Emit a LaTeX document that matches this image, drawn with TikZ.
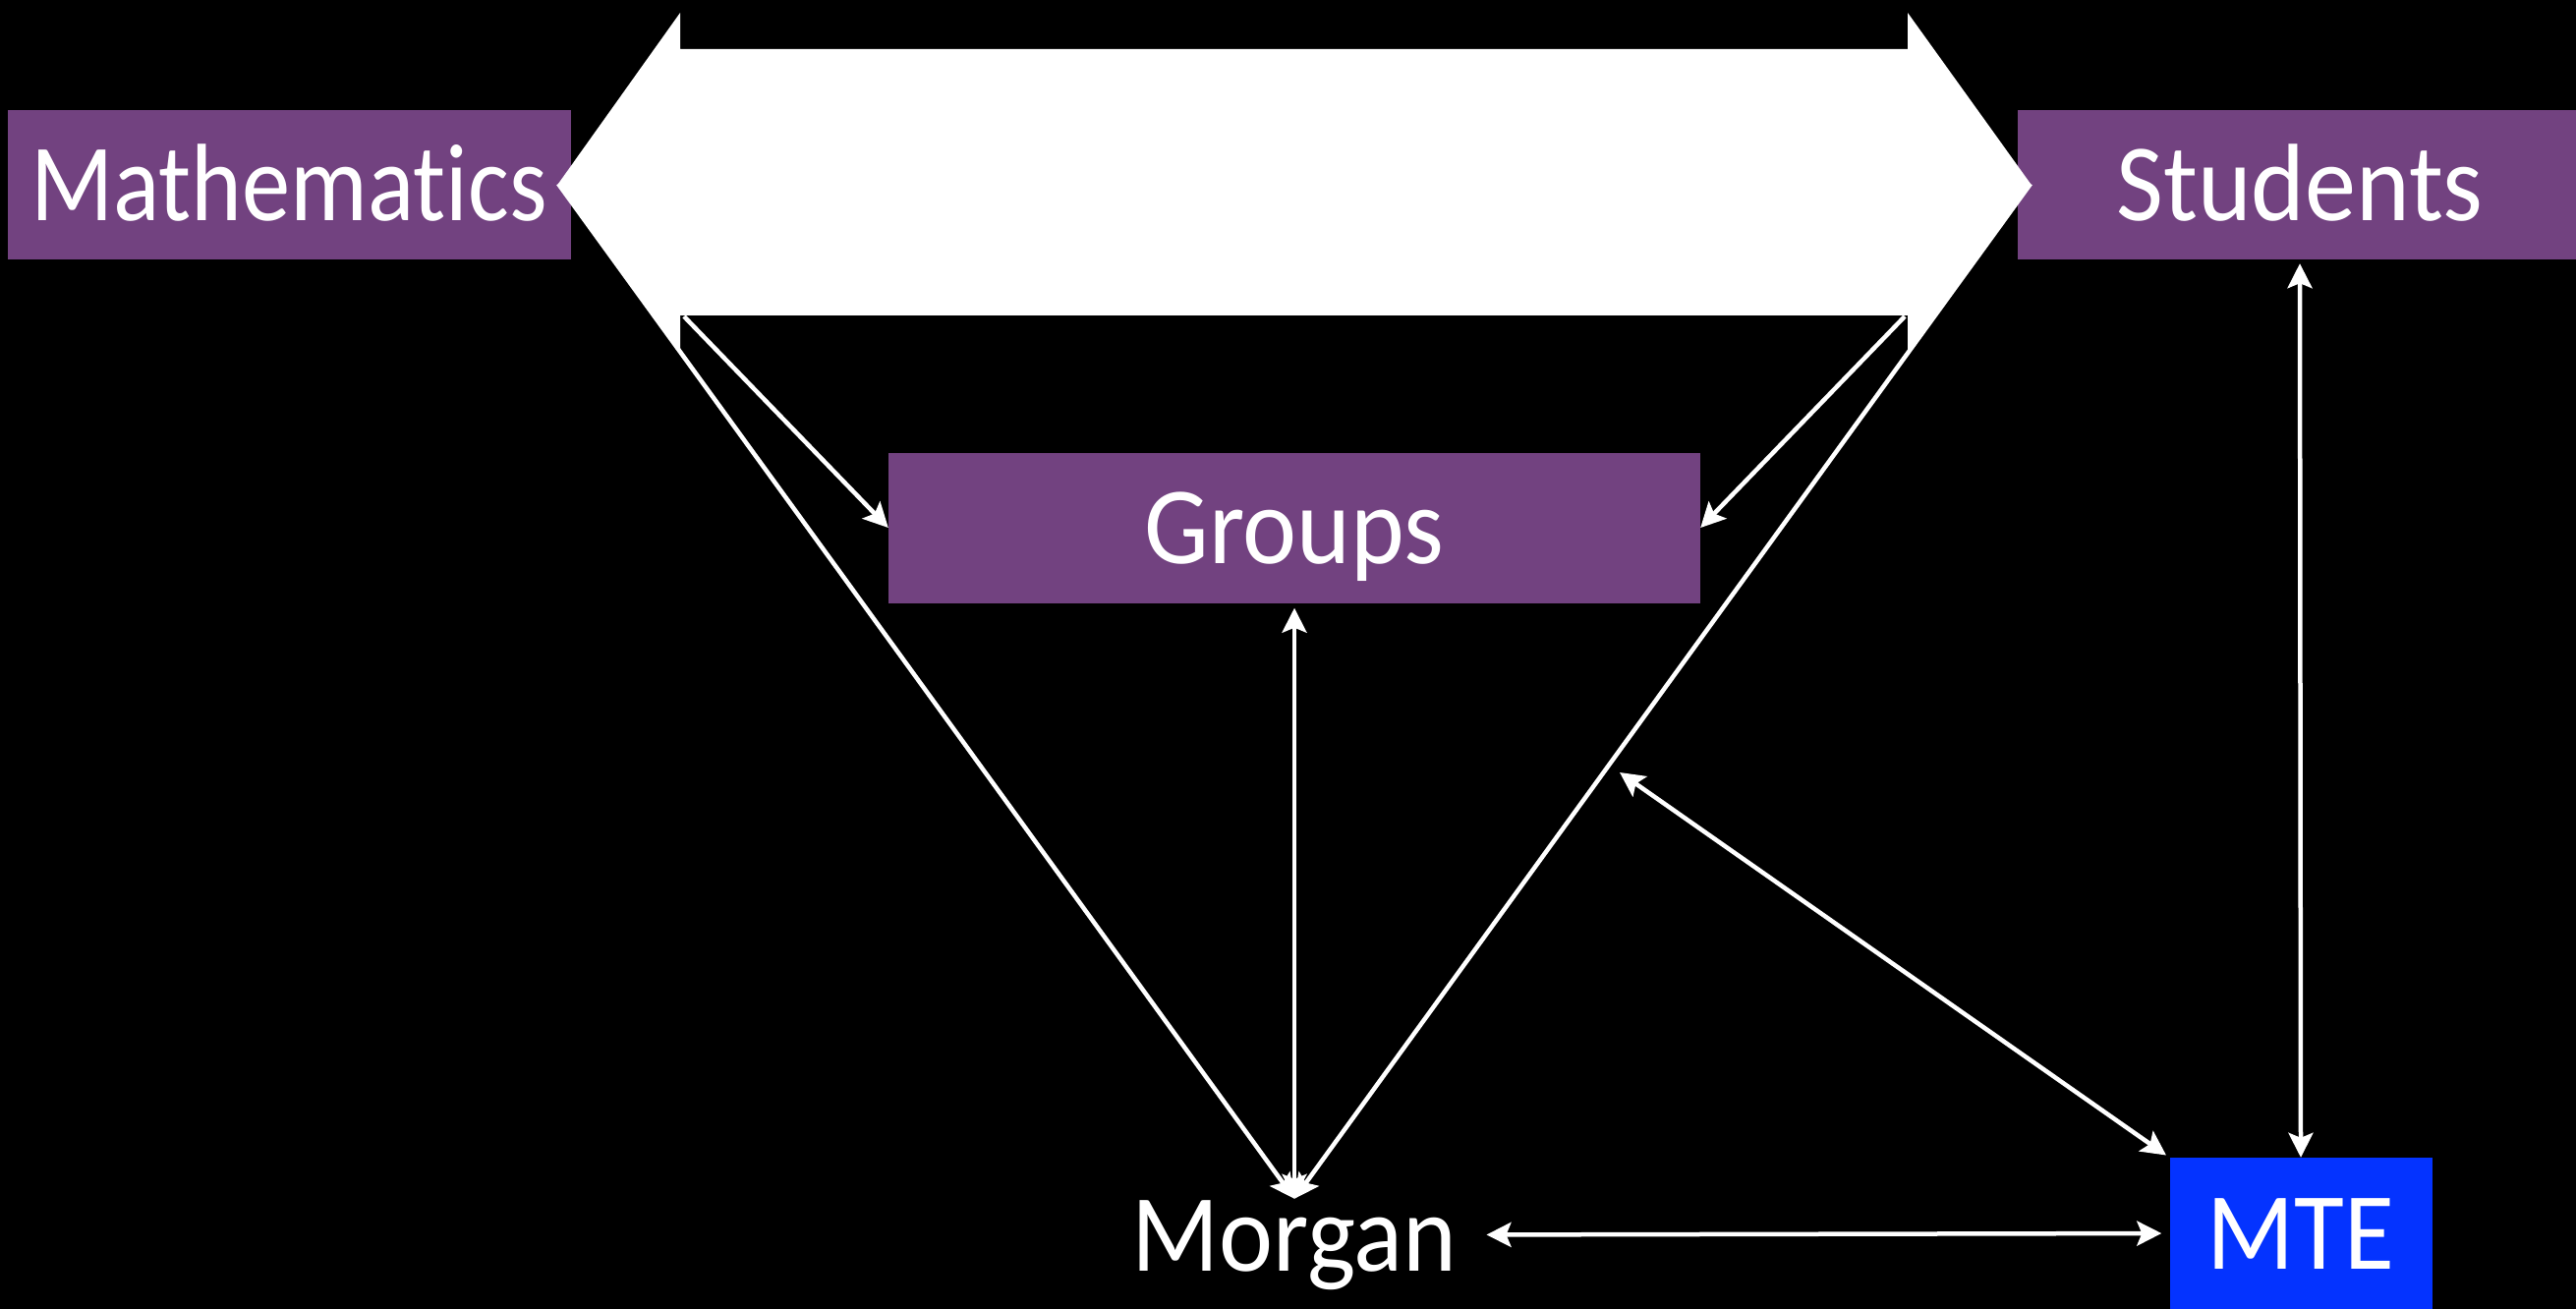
\documentclass[tikz,border=0pt]{standalone}
\usepackage{fontspec}
\setmainfont{Carlito}[FakeStretch=0.93, Ligatures=NoCommon]
\newfontfamily\mathfnt{Carlito}[FakeStretch=0.88, Ligatures=NoCommon]
\usetikzlibrary{arrows.meta}
\definecolor{kpurple}{RGB}{114,66,128}
\definecolor{kblue}{RGB}{4,51,255}
\begin{document}
\begin{tikzpicture}[x=1pt,y=-1pt,
  lbl/.style={text=white, font=\fontsize{112}{118}\selectfont, text height=73pt, text depth=0pt, inner sep=0pt},
  box/.style={lbl, fill=kpurple, draw=none},
  conn/.style={draw=white, line width=4.5pt, arrows={-Stealth[length=25pt,width=25pt,inset=5pt]}},
  conn2/.style={draw=white, line width=4.5pt, arrows={Stealth[length=25pt,width=25pt,inset=5pt]-Stealth[length=25pt,width=25pt,inset=5pt]}}
]
\fill[black] (0,0) rectangle (2621,1332);
\useasboundingbox (0,0) rectangle (2621,1332);

% boxes
\node[box, minimum width=573pt, minimum height=152pt] (math) at (294,188) {\mathfnt Mathematics};
\node[box, minimum width=574pt, minimum height=152pt] (stud) at (2340,188) {Students};
\node[box, minimum width=826pt, minimum height=153pt] (groups) at (1317,537) {Groups};
\node[box, fill=kblue, minimum width=267pt, minimum height=154pt] (mte) at (2341,1255) {MTE};
\node[lbl, anchor=base] (morgan) at (1317,1293) {Morgan};

% points on the big arrow
\coordinate (ltip) at (568,187);
\coordinate (rtip) at (2066,187);
\coordinate (lsb) at (696,322);
\coordinate (rsb) at (1938,322);
\coordinate (onr) at (1648,786);

% connectors
\draw[conn] (ltip) -- (morgan.north);
\draw[conn] (rtip) -- (morgan.north);
\draw[conn2, shorten <=5pt] (groups.south) -- (morgan.north);
\draw[conn] (lsb) -- (groups.west);
\draw[conn] (rsb) -- (groups.east);
\draw[conn2, shorten <=4pt] (stud.south) -- (mte.north);
\draw[conn2, shorten <=30pt, shorten >=8pt] (morgan.east) -- (mte.west);
\draw[conn2, shorten >=4pt] (onr) -- (mte.north west);

% big double arrow
\fill[white] (ltip) -- (692,13) -- (692,50) -- (1941,50) -- (1941,13) -- (rtip)
  -- (1941,358) -- (1941,321) -- (692,321) -- (692,358) -- cycle;
\end{tikzpicture}
\end{document}
